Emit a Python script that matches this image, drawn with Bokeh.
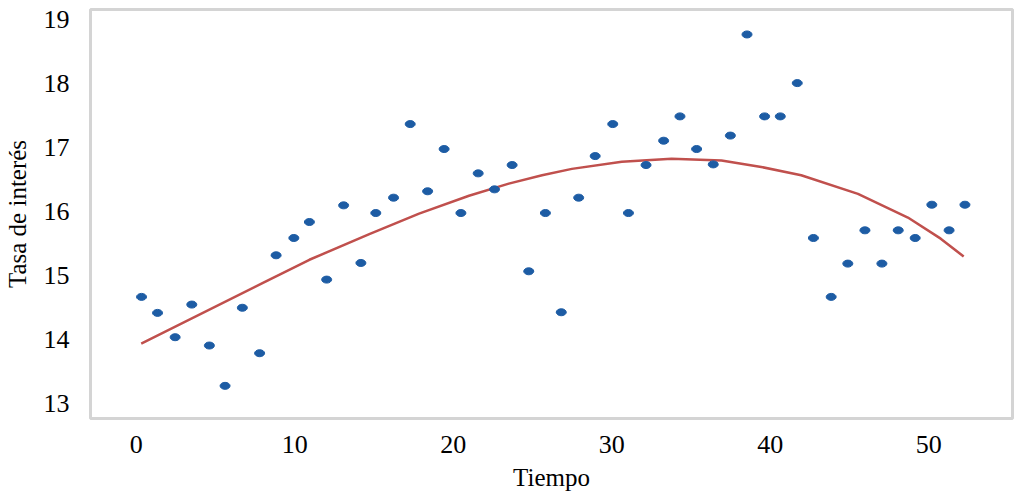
from bokeh.plotting import figure
from bokeh.models import FixedTicker, Range1d, ColumnDataSource
from bokeh.embed import file_html
from bokeh.resources import INLINE

# Observed points: time (x) and interest rate (y)
tiempo = [0.33, 1.34, 2.45, 3.50, 4.61, 5.60, 6.69, 7.78, 8.82, 9.94,
          10.92, 12.01, 13.08, 14.17, 15.11, 16.23, 17.28, 18.38, 19.42, 20.48,
          21.57, 22.60, 23.71, 24.76, 25.81, 26.81, 27.91, 28.95, 30.06, 31.05,
          32.16, 33.27, 34.30, 35.35, 36.40, 37.48, 38.53, 39.64, 40.63, 41.70,
          42.72, 43.84, 44.89, 45.97, 47.04, 48.07, 49.14, 50.19, 51.28, 52.28]
tasa = [14.66, 14.41, 14.03, 14.54, 13.90, 13.27, 14.49, 13.78, 15.31, 15.58,
        15.83, 14.93, 16.09, 15.19, 15.97, 16.21, 17.36, 16.31, 16.97, 15.97,
        16.59, 16.34, 16.72, 15.06, 15.97, 14.42, 16.21, 16.86, 17.36, 15.97,
        16.72, 17.10, 17.48, 16.97, 16.73, 17.18, 18.76, 17.48, 17.48, 18.00,
        15.58, 14.66, 15.18, 15.70, 15.18, 15.70, 15.58, 16.10, 15.70, 16.10]

# Trend curve
curva_x = [0.31, 7.99, 10.92, 14.70, 17.84, 20.99, 23.50, 25.60, 27.48, 30.63,
           33.77, 36.92, 39.43, 41.95, 45.53, 48.68, 50.75, 52.20]
curva_y = [13.93, 14.88, 15.24, 15.64, 15.96, 16.24, 16.43, 16.56, 16.66, 16.77,
           16.82, 16.79, 16.69, 16.56, 16.27, 15.90, 15.57, 15.29]

x_ticks = [0, 10, 20, 30, 40, 50]
y_ticks = [13, 14, 15, 16, 17, 18, 19]

FONT = "Liberation Serif"

p = figure(width=1014, height=496, output_backend="svg", toolbar_location=None,
           x_range=Range1d(-2.89, 55.28), y_range=Range1d(12.76, 19.15),
           min_border_left=87, min_border_right=2, min_border_top=9,
           min_border_bottom=78)

p.background_fill_color = "white"
p.border_fill_color = "white"
p.outline_line_color = "#d4d4d4"
p.outline_line_width = 3
p.xgrid.grid_line_color = None
p.ygrid.grid_line_color = None

p.line(curva_x, curva_y, line_color="#c0504d", line_width=2.5)

src = ColumnDataSource(data=dict(x=tiempo, y=tasa))
p.ellipse(x="x", y="y", width=10, height=7, width_units="screen",
          height_units="screen", source=src, fill_color="#1d5ca4",
          line_color="#1d5ca4")

for ax in (p.xaxis[0], p.yaxis[0]):
    ax.axis_line_color = None
    ax.major_tick_line_color = None
    ax.minor_tick_line_color = None
    ax.major_label_text_font = FONT
    ax.major_label_text_font_size = "26px"
    ax.major_label_text_color = "black"
    ax.axis_label_text_font = FONT
    ax.axis_label_text_font_size = "25px"
    ax.axis_label_text_font_style = "normal"
    ax.axis_label_text_color = "black"

p.xaxis.ticker = FixedTicker(ticks=x_ticks)
p.yaxis.ticker = FixedTicker(ticks=y_ticks)
p.xaxis.axis_label = "Tiempo"
p.yaxis.axis_label = "Tasa de interés"
p.xaxis.major_label_standoff = 11
p.yaxis.major_label_standoff = 15
p.xaxis.axis_label_standoff = 8
p.yaxis.axis_label_standoff = 10

open("out.html", "w").write(file_html(p, INLINE))
